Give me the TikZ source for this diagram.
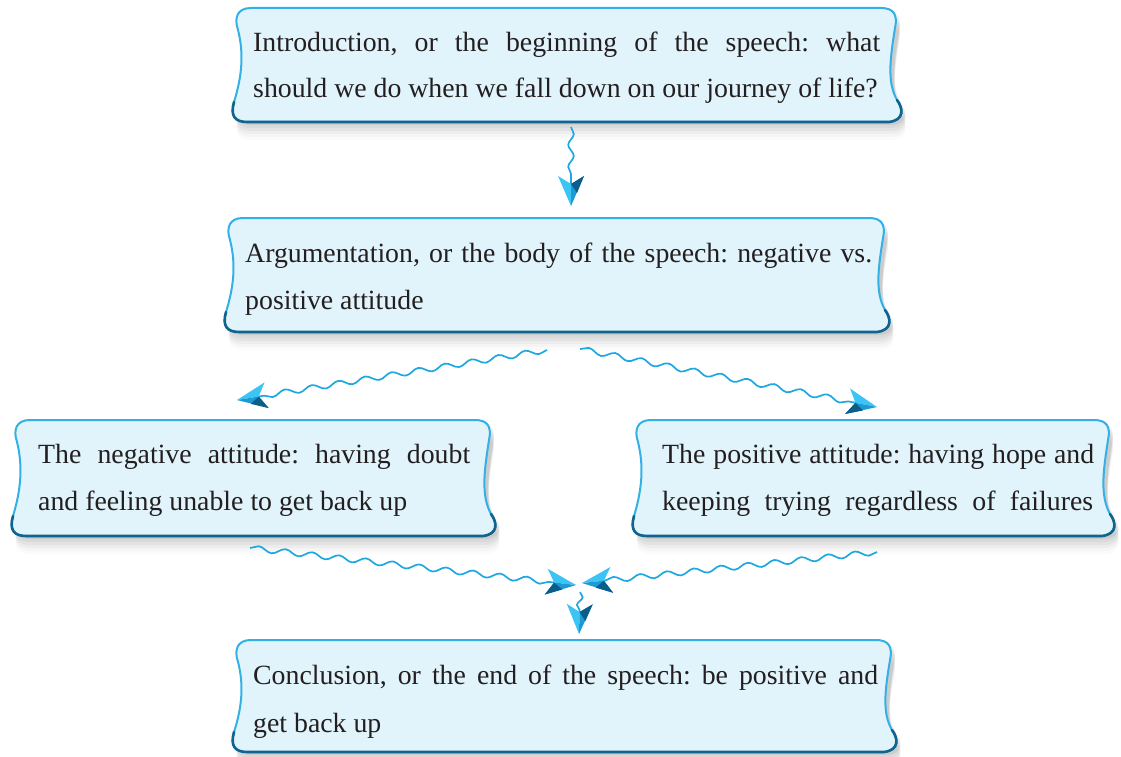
\documentclass[tikz,border=0pt]{standalone}
\usepackage{fontspec}
\setmainfont{Liberation Serif}
\frenchspacing
\usetikzlibrary{decorations.pathmorphing,calc}
\definecolor{boxfill}{HTML}{E1F3FB}
\definecolor{edgelight}{HTML}{33B0E6}
\definecolor{edgedark}{HTML}{11648E}
\definecolor{wave}{HTML}{1FA8E0}
\definecolor{headlight}{HTML}{3CC4F4}
\definecolor{headmid}{HTML}{1B9AD6}
\definecolor{headdark}{HTML}{0C5E8A}
\definecolor{txt}{HTML}{231F20}

\newcommand\scrollpath[4]{%
 ({#1+18},{#2}) -- ({#3-22},{#2})
 .. controls ({#3-10},{#2}) and ({#3-5},{#2+6}) .. ({#3-8},{#2+20})
 .. controls ({#3-13},{#2+0.45*(#4-#2)}) and ({#3-16},{#2+0.65*(#4-#2)}) .. ({#3-6},{#4-22})
 .. controls ({#3},{#4-14}) and ({#3+2},{#4-2}) .. ({#3-14},{#4})
 -- ({#1+14},{#4})
 .. controls ({#1+2},{#4}) and ({#1-3},{#4-6}) .. ({#1+1},{#4-20})
 .. controls ({#1+9},{#2+0.6*(#4-#2)}) and ({#1+11},{#2+0.4*(#4-#2)}) .. ({#1+5},{#2+22})
 .. controls ({#1+1},{#2+10}) and ({#1+4},{#2}) .. ({#1+18},{#2}) -- cycle}

\newcommand\scrollbox[4]{%
 \foreach \d/\o in {3/0.06,6/0.05,9/0.04,12/0.03,15/0.025,18/0.015}{%
   \begin{scope}[shift={(4,\d)}]\fill[black,opacity=\o] \scrollpath{#1}{#2}{#3}{#4};\end{scope}}
 \fill[boxfill] \scrollpath{#1}{#2}{#3}{#4};
 \draw[edgelight, line width=2pt] \scrollpath{#1}{#2}{#3}{#4};
 \draw[edgedark, line width=2.6pt, line cap=round]
   ({#3-6},{#4-22}) .. controls ({#3},{#4-14}) and ({#3+2},{#4-2}) .. ({#3-14},{#4})
   -- ({#1+14},{#4}) .. controls ({#1+2},{#4}) and ({#1-3},{#4-6}) .. ({#1+1},{#4-20});
}

\tikzset{
  txtline/.style={anchor=base west, inner sep=0pt, text=txt, font=\fontsize{27.8}{46}\selectfont},
  wavy/.style={draw=wave, line width=1.7pt, decorate,
     decoration={snake, segment length=#1, amplitude=2.8pt, post length=1pt}},
  wavy/.default=27pt,
  aheadL/.pic={
    \fill[headlight] (0,0) -- (-30,-13) -- (-22,0) -- cycle;
    \fill[headmid] (0,0) -- (-30,13) -- (-22,0) -- cycle;
    \fill[headdark] (-30,13) -- (-22,0) -- (-13,6) -- cycle;
  },
  aheadR/.pic={
    \fill[headlight] (0,0) -- (-30,13) -- (-22,0) -- cycle;
    \fill[headmid] (0,0) -- (-30,-13) -- (-22,0) -- cycle;
    \fill[headdark] (-30,-13) -- (-22,0) -- (-13,-6) -- cycle;
  }
}

\newcommand\wavearrow[4]{% start, tip, pic, segment length
  \draw[wavy=#4] (#1) -- ($(#2)!22pt!(#1)$);
  \path (#1) -- (#2) pic[pos=1, sloped, allow upside down] {#3};
}

\begin{document}
\begin{tikzpicture}[x=1pt,y=-1pt]
\useasboundingbox (0,0) rectangle (1121,757);

\scrollbox{233}{8}{903}{122}
\scrollbox{225}{218}{891}{332}
\scrollbox{12}{420}{497}{536}
\scrollbox{633}{420}{1116}{536}
\scrollbox{233}{640}{898}{752}

\node[txtline] (intro1) at (253,52) {\makebox[627pt][s]{Introduction, or the beginning of the speech: what}};
\node[txtline] (intro2) at (253,98) {should we do when we fall down on our journey of life?};
\node[txtline] (arg1) at (245,262) {\makebox[627pt][s]{Argumentation, or the body of the speech: negative vs.}};
\node[txtline] (arg2) at (245,309) {positive attitude};
\node[txtline] (neg1) at (38,463) {\makebox[432pt][s]{The negative attitude: having doubt}};
\node[txtline] (neg2) at (38,510) {and feeling unable to get back up};
\node[txtline] (pos1) at (662,463) {\makebox[432pt][s]{The positive attitude: having hope and}};
\node[txtline] (pos2) at (662,510) {\makebox[431pt][s]{keeping trying regardless of failures}};
\node[txtline] (conc1) at (253,684) {\makebox[625pt][s]{Conclusion, or the end of the speech: be positive and}};
\node[txtline] (conc2) at (253,732) {get back up};

\coordinate (s1) at (571,127); \coordinate (t1) at (571,206);
\coordinate (s2) at (547,350); \coordinate (t2) at (237,400);
\coordinate (s3) at (580,349); \coordinate (t3) at (877,407);
\coordinate (s4) at (250,548); \coordinate (t4) at (576,585);
\coordinate (s5) at (877,552); \coordinate (t5) at (582,583);
\coordinate (s6) at (580,592); \coordinate (t6) at (579,634);

\wavearrow{s1}{t1}{aheadR}{22pt}
\wavearrow{s2}{t2}{aheadR}{27pt}
\wavearrow{s3}{t3}{aheadL}{27pt}
\wavearrow{s4}{t4}{aheadL}{27pt}
\wavearrow{s5}{t5}{aheadR}{27pt}
\wavearrow{s6}{t6}{aheadR}{16pt}
\end{tikzpicture}
\end{document}
